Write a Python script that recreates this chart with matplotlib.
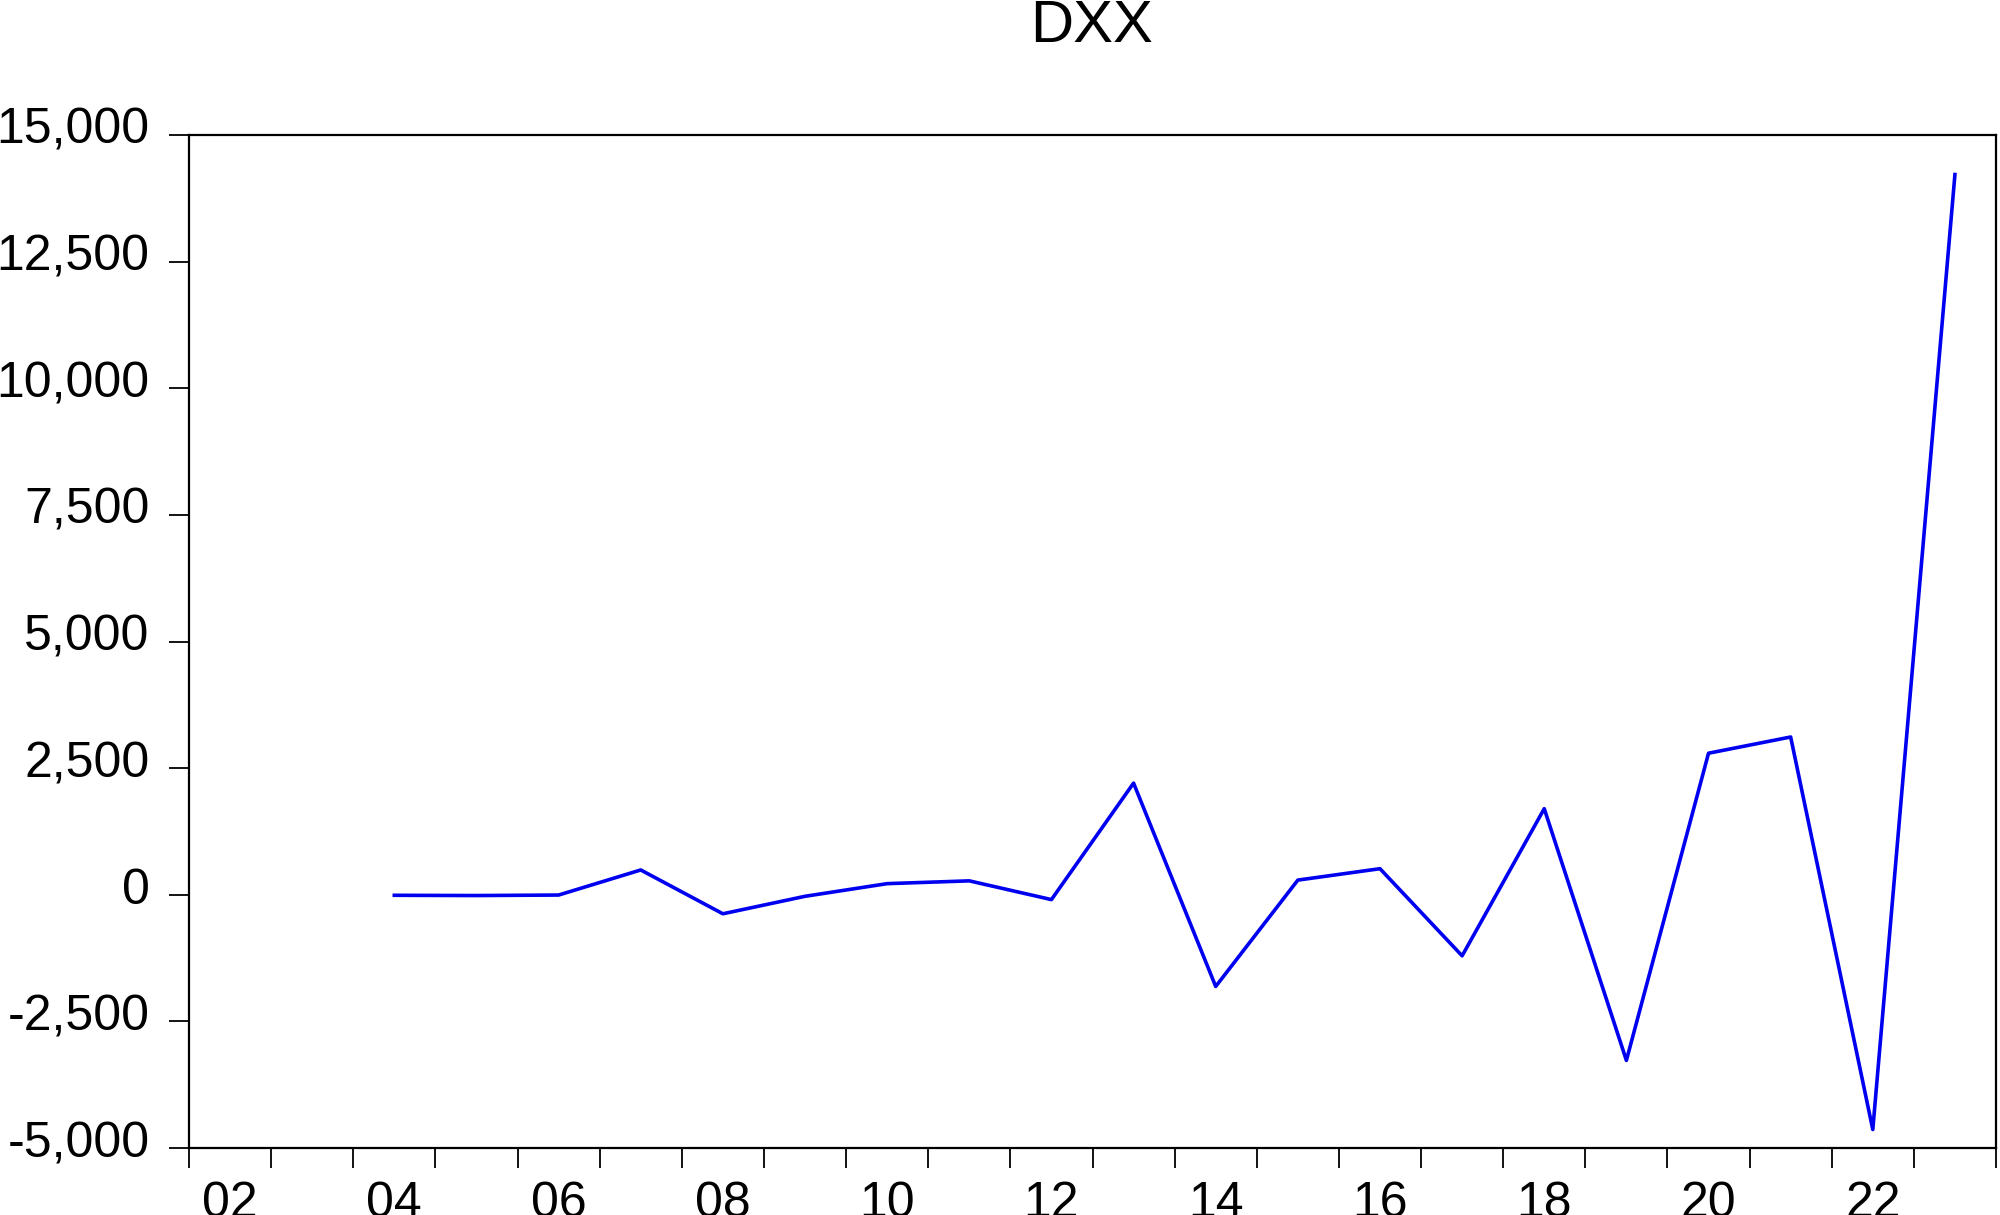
import matplotlib.pyplot as plt
from matplotlib.ticker import FixedLocator, FuncFormatter
from matplotlib.transforms import ScaledTranslation

plt.rcParams["font.family"] = ["Liberation Sans", "DejaVu Sans"]

years = list(range(2004, 2024))
dxx = [-10, -15, -5, 490, -375, -30, 220, 275, -95, 2205, -1810, 290, 515,
       -1205, 1700, -3270, 2795, 3115, -4635, 14220]

label_years = list(range(2002, 2023, 2))
tick_labels = [f"{y % 100:02d}" for y in label_years]

fig = plt.figure(figsize=(20, 12.15), dpi=100)
ax = fig.add_axes([0.0945, 0.0551, 0.9035, 0.8338])

ax.plot([y + 0.5 for y in years], dxx, color="#0000f0", lw=2.6)

ax.set_xlim(2002, 2024)
ax.set_ylim(-5000, 15000)

# year boundaries as major ticks, labels sit in the middle of the year
ax.xaxis.set_major_locator(FixedLocator(range(2002, 2025)))
ax.xaxis.set_major_formatter(FuncFormatter(lambda v, p: ""))
ax.xaxis.set_minor_locator(FixedLocator([y + 0.5 for y in label_years]))
ax.xaxis.set_minor_formatter(FuncFormatter(lambda v, p: tick_labels[p] if p < len(tick_labels) else ""))
ax.tick_params(axis="x", which="major", direction="out", length=14.4, width=1.3)
ax.tick_params(axis="x", which="minor", length=0, pad=24, labelsize=36)

ax.set_yticks(range(-5000, 15001, 2500))
ax.yaxis.set_major_formatter(FuncFormatter(lambda v, p: f"{int(v):,}"))
ax.tick_params(axis="y", direction="out", length=14.4, width=1.3, pad=14, labelsize=36)

# EViews puts the value labels a little above their tick
lift = ScaledTranslation(0, 6.5 / 72, fig.dpi_scale_trans)
for t in ax.yaxis.get_major_ticks():
    t.label1.set_transform(t.label1.get_transform() + lift)

for s in ax.spines.values():
    s.set_linewidth(1.6)

fig.text(0.546, 0.9654, "DXX", ha="center", va="baseline", fontsize=43)

fig.savefig("out.png", dpi=100)
